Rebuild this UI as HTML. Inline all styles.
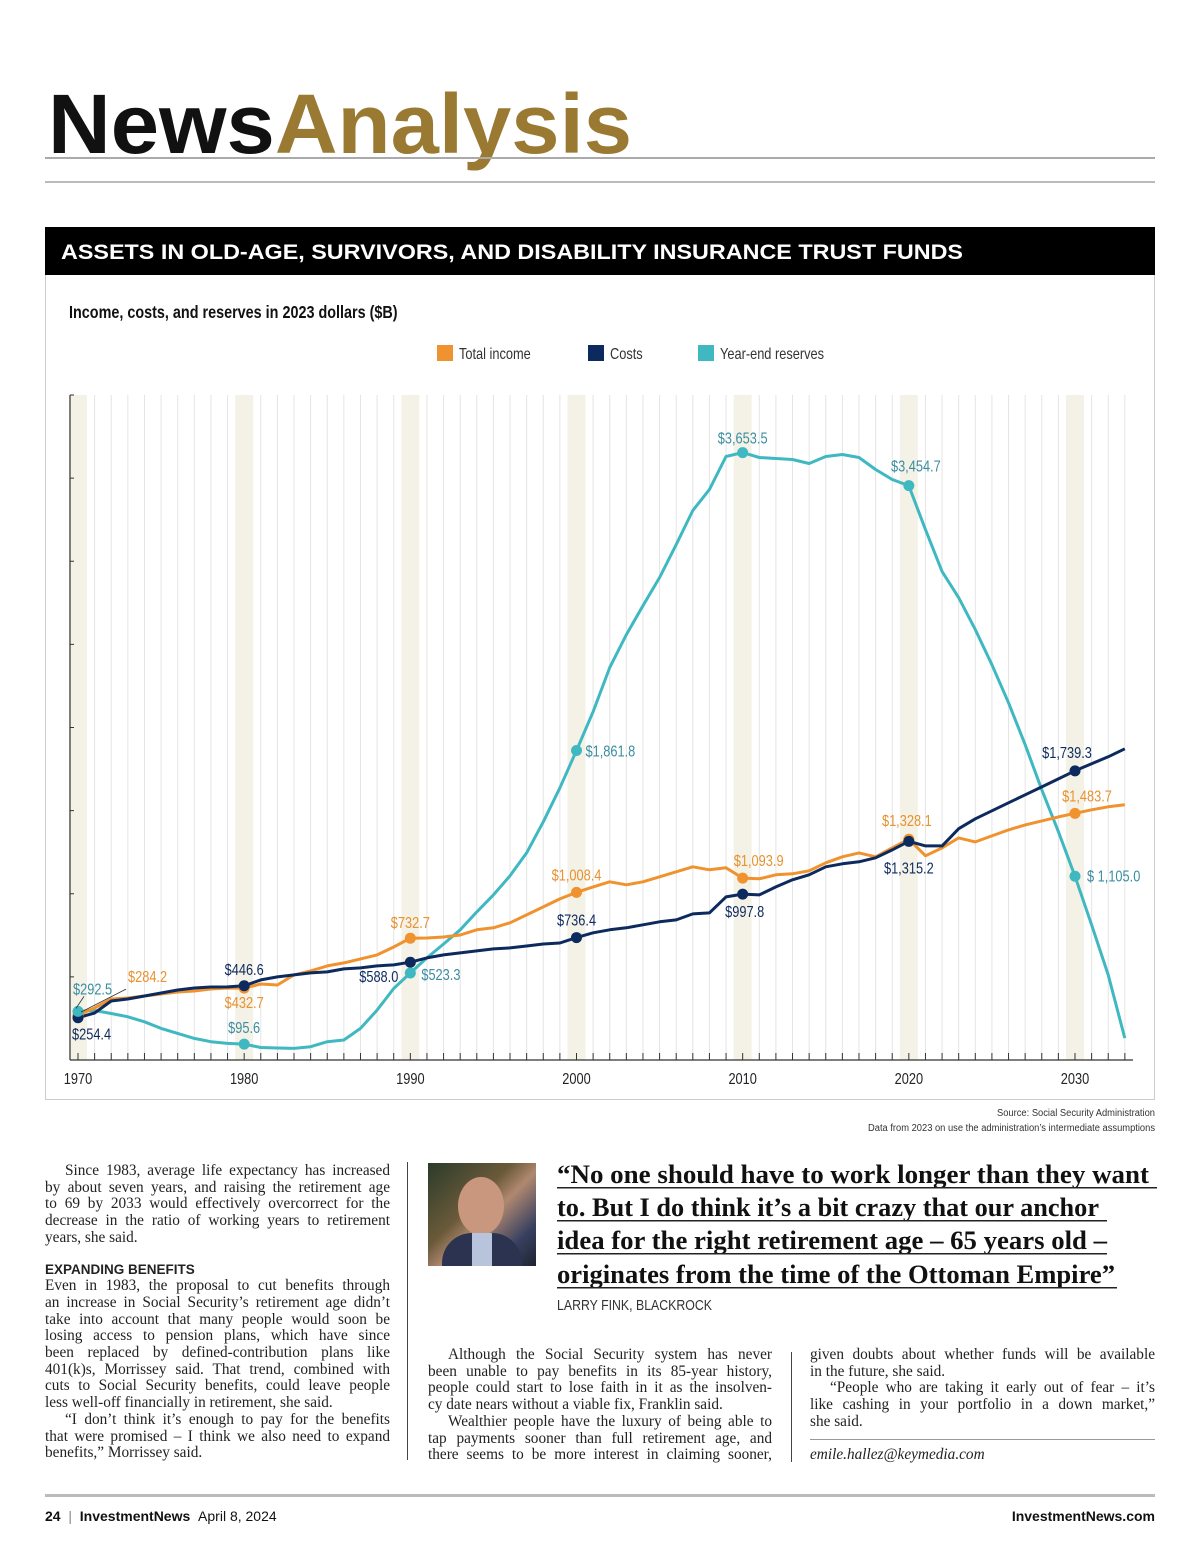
<!DOCTYPE html>
<html><head><meta charset="utf-8"><style>
body{margin:0;background:#fff;width:1200px;height:1560px;position:relative;overflow:hidden;font-family:"Liberation Sans",sans-serif}
.abs{position:absolute}
.col{position:absolute;font-family:"Liberation Serif",serif;font-size:15.3px;color:#222;line-height:16.7px}
.col div{white-space:nowrap;text-align:justify;text-align-last:justify}
.col div.l{text-align-last:left}
.col div.i{text-indent:20px}
</style></head><body>
<svg class="abs" style="left:0;top:0" width="1200" height="200">
<text x="48" y="153" font-family="Liberation Sans" font-weight="bold" font-size="84" textLength="584" lengthAdjust="spacingAndGlyphs"><tspan fill="#111">News</tspan><tspan fill="#9a7a32">Analysis</tspan></text>
<rect x="45" y="157" width="1110" height="2" fill="#aaa"/>
<rect x="45" y="181" width="1110" height="2" fill="#bbb"/>
</svg>
<div class="abs" style="left:45px;top:227px;width:1110px;height:48px;background:#000">
<svg width="1110" height="48"><text x="16" y="32" fill="#fff" font-family="Liberation Sans" font-weight="bold" font-size="21" textLength="902" lengthAdjust="spacingAndGlyphs">ASSETS IN OLD-AGE, SURVIVORS, AND DISABILITY INSURANCE TRUST FUNDS</text></svg>
</div>
<div class="abs" style="left:45px;top:275px;width:1108px;height:824px;border:1px solid #ccc;border-top:none"></div>
<svg id="chart" class="abs" style="left:0;top:0" width="1200" height="1140"></svg>
<svg class="abs" style="left:700px;top:1104px" width="455" height="30">
<g font-family="Liberation Sans" font-size="10" fill="#333" text-anchor="end">
<text x="455" y="12" textLength="158" lengthAdjust="spacingAndGlyphs">Source: Social Security Administration</text>
<text x="455" y="27" textLength="287" lengthAdjust="spacingAndGlyphs">Data from 2023 on use the administration’s intermediate assumptions</text></g></svg>

<div class="col" style="left:45px;top:1163px;width:345px">
<div class="i">Since 1983, average life expectancy has increased</div>
<div>by about seven years, and raising the retirement age</div>
<div>to 69 by 2033 would effectively overcorrect for the</div>
<div>decrease in the ratio of working years to retirement</div>
<div class="l">years, she said.</div>
<div class="l" style="margin-top:15px;font-family:'Liberation Sans',sans-serif;font-weight:bold;font-size:13.5px">EXPANDING BENEFITS</div>
<div>Even in 1983, the proposal to cut benefits through</div>
<div>an increase in Social Security’s retirement age didn’t</div>
<div>take into account that many people would soon be</div>
<div>losing access to pension plans, which have since</div>
<div>been replaced by defined-contribution plans like</div>
<div>401(k)s, Morrissey said. That trend, combined with</div>
<div>cuts to Social Security benefits, could leave people</div>
<div class="l">less well-off financially in retirement, she said.</div>
<div class="i">“I don’t think it’s enough to pay for the benefits</div>
<div>that were promised – I think we also need to expand</div>
<div class="l">benefits,” Morrissey said.</div>
</div>
<div class="abs" style="left:407px;top:1162px;width:1px;height:298px;background:#444"></div>
<div class="abs" style="left:428px;top:1163px;width:108px;height:103px;background:linear-gradient(135deg,#2a3b2a,#6b5a3a 40%,#b08870 55%,#384060 80%,#1e2430)">
<div class="abs" style="left:30px;top:14px;width:46px;height:58px;border-radius:50%;background:#c9977e"></div>
<div class="abs" style="left:14px;top:70px;width:80px;height:33px;border-radius:30px 30px 0 0;background:#2b3350"></div>
<div class="abs" style="left:44px;top:70px;width:20px;height:33px;background:#b8c4dc"></div>
</div>
<svg class="abs" style="left:550px;top:1160px" width="620" height="160">
<g font-family="Liberation Serif" font-weight="bold" font-size="26" fill="#111">
<text x="7" y="23" textLength="592" lengthAdjust="spacingAndGlyphs">“No one should have to work longer than they want</text>
<text x="7" y="56" textLength="542" lengthAdjust="spacingAndGlyphs">to. But I do think it’s a bit crazy that our anchor</text>
<text x="7" y="89" textLength="550" lengthAdjust="spacingAndGlyphs">idea for the right retirement age – 65 years old –</text>
<text x="7" y="123" textLength="558" lengthAdjust="spacingAndGlyphs">originates from the time of the Ottoman Empire”</text>
</g>
<g fill="#222"><rect x="7" y="27" width="600" height="1.5"/><rect x="7" y="60" width="550" height="1.5"/><rect x="7" y="93" width="550" height="1.5"/><rect x="7" y="127" width="560" height="1.5"/></g>
<text x="7" y="150" font-family="Liberation Sans" font-size="14.5" fill="#333" textLength="155" lengthAdjust="spacingAndGlyphs">LARRY FINK, BLACKROCK</text>
</svg>
<div class="col" style="left:428px;top:1347px;width:344px">
<div class="i">Although the Social Security system has never</div>
<div>been unable to pay benefits in its 85-year history,</div>
<div>people could start to lose faith in it as the insolven-</div>
<div class="l">cy date nears without a viable fix, Franklin said.</div>
<div class="i">Wealthier people have the luxury of being able to</div>
<div>tap payments sooner than full retirement age, and</div>
<div>there seems to be more interest in claiming sooner,</div>
</div>
<div class="abs" style="left:791px;top:1352px;width:1px;height:110px;background:#444"></div>
<div class="col" style="left:810px;top:1347px;width:345px">
<div>given doubts about whether funds will be available</div>
<div class="l">in the future, she said.</div>
<div class="i">“People who are taking it early out of fear – it’s</div>
<div>like cashing in your portfolio in a down market,”</div>
<div class="l">she said.</div>
<div style="height:1px;background:#999;margin:8px 0 7px"></div>
<div class="l" style="font-style:italic">emile.hallez@keymedia.com</div>
</div>
<div class="abs" style="left:45px;top:1494px;width:1110px;height:3px;background:#bbb"></div>
<div class="abs" style="left:45px;top:1508px;font-size:14px;color:#111"><b>24</b> <span style="color:#888">&nbsp;|&nbsp;</span> <b>InvestmentNews</b> &nbsp;April 8, 2024</div>
<div class="abs" style="right:45px;top:1508px;font-size:14px;font-weight:bold;color:#111">InvestmentNews.com</div>

<script>
const years=[];for(let y=1970;y<=2033;y++)years.push(y);
const income=[270,313,367,373,385,397,409,415,427,433,432.7,457,451,512,536,566,584,608,632,680,732.7,734,740,752,783,795,825,873,921,969,1008.4,1041,1072,1054,1072,1102,1132,1162,1144,1156,1093.9,1090,1114,1120,1138,1186,1222,1246,1222,1276,1328.1,1228,1276,1336,1312,1348,1384,1414,1438,1462,1483.7,1505,1523,1535];
const costs=[254.4,283,355,367,385,403,421,433,439,440,446.6,482,500,512,524,530,548,554,566,572,588.0,614,632,644,656,668,674,686,698,704,736.4,765,783,795,813,831,843,879,885,981,997.8,993,1041,1084,1114,1162,1180,1192,1216,1264,1315.2,1288,1288,1391,1451,1499,1547,1595,1643,1691,1739.3,1782,1824,1872];
const reserves=[292.5,298,280,260,230,190,160,130,110,100,95.6,75,72,70,80,110,120,190,300,430,523.3,614,698,783,891,993,1108,1246,1433,1637,1861.8,2095,2360,2559,2733,2902,3100,3305,3431,3630,3653.5,3624,3618,3612,3588,3630,3642,3624,3552,3492,3454.7,3190,2938,2781,2589,2378,2149,1896,1625,1373,1105.0,813,512,132];
const xTickLabels=[1970,1980,1990,2000,2010,2020,2030];
const yTicks=[0,500,1000,1500,2000,2500,3000,3500,4000];
const seriesNames=["Total income","Costs","Year-end reserves"];
const labelTexts=[["$284.2","$432.7","$732.7","$1,008.4","$1,093.9","$1,328.1","$1,483.7"],["$254.4","$446.6","$588.0","$736.4","$997.8","$1,315.2","$1,739.3"],["$292.5","$95.6","$523.3","$1,861.8","$3,653.5","$3,454.7","$ 1,105.0"]];

const colors=["#f0922e","#0d2a5e","#3fb8c2"];
const labelColors=["#e8912d","#0d2a5e","#3a8da0"];
const svg=document.getElementById('chart');
const NS='http://www.w3.org/2000/svg';
const X0=78,X1=1075,Y0=1060,Y1=395,PL=70,PR=1133;
const SX=0.8;
const x=y=>X0+(y-1970)*(X1-X0)/60;
const yv=v=>Y0-v*(Y0-Y1)/4000;
function mk(t,a,p){const e=document.createElementNS(NS,t);for(const k in a)e.setAttribute(k,a[k]);(p||svg).appendChild(e);return e;}
function ntext(px,py,a,p){const e=mk('text',Object.assign({x:0,y:0,transform:'translate('+px+','+py+') scale('+SX+',1)'},a),p);return e;}
// subtitle & legend
const st=ntext(69,318,{'font-family':'Liberation Sans','font-weight':'bold','font-size':18,fill:'#111'});


st.textContent='Income, costs, and reserves in 2023 dollars ($B)';
const legX=[437,588,698];
seriesNames.forEach((n,i)=>{
  const g=mk('g',{});
  
  
  mk('rect',{x:legX[i],y:345,width:16,height:16,fill:colors[i]},g);
  const t=ntext(legX[i]+22,359,{'font-family':'Liberation Sans','font-size':16,fill:'#333'},g);
  t.textContent=n;
});
// bands & grid
for(let yr=1970;yr<=2033;yr++){
  if(yr%10===0){const b=mk('rect',{x:x(yr)-9,y:Y1,width:18,height:Y0-Y1,fill:'#f4f1e6'});
    
    }
  else mk('line',{x1:x(yr),x2:x(yr),y1:Y1,y2:Y0,stroke:'#e4e4e4','stroke-width':1});
  mk('line',{x1:x(yr),x2:x(yr),y1:Y0,y2:Y0-7,stroke:'#333','stroke-width':1});
}
// axes
const ax=mk('line',{x1:PL,x2:PL,y1:Y1,y2:Y0,stroke:'#333','stroke-width':1.2});


yTicks.forEach(v=>mk('line',{x1:PL,x2:PL+4,y1:yv(v),y2:yv(v),stroke:'#333'}));
const bx=mk('line',{x1:PL,x2:PR,y1:Y0,y2:Y0,stroke:'#333','stroke-width':1.2});


xTickLabels.forEach(t=>{const e=ntext(x(t),1084,{'text-anchor':'middle','font-family':'Liberation Sans','font-size':16,fill:'#222'});
  
  
  e.textContent=t;});
// lines
const data=[income,costs,reserves];
const order=[2,0,1];
order.forEach(i=>{
  const d=data[i].map((v,k)=>(k?'L':'M')+x(years[k]).toFixed(1)+','+yv(v).toFixed(1)).join('');
  const p=mk('path',{d:d,fill:'none',stroke:colors[i],'stroke-width':3,'stroke-linejoin':'round'});
  
  
});
// markers & labels
const offs=[
 [[50,-33,'start'],[0,20,'middle'],[0,-10,'middle'],[0,-12,'middle'],[16,-12,'middle'],[-2,-13,'middle'],[12,-12,'middle']],
 [[-6,22,'start'],[0,-11,'middle'],[-12,20,'end'],[0,-12,'middle'],[2,23,'middle'],[0,32,'middle'],[-8,-13,'middle']],
 [[-5,-17,'start'],[0,-11,'middle'],[11,7,'start'],[9,6,'start'],[0,-9,'middle'],[7,-14,'middle'],[12,5,'start']]
];
[0,1,2].forEach(i=>{
  xTickLabels.forEach((yr,j)=>{
    const k=yr-1970;
    const c=mk('circle',{cx:x(yr),cy:yv(data[i][k]),r:5.5,fill:colors[i]});
    
    
    const o=offs[i][j];
    const t=ntext(x(yr)+o[0],yv(data[i][k])+o[1],{'text-anchor':o[2],'font-family':'Liberation Sans','font-size':16,fill:labelColors[i]});
    
    
    t.textContent=labelTexts[i][j];
  });
});
mk('line',{x1:x(1970)+3,y1:yv(income[0])-3,x2:x(1970)+48,y2:yv(income[0])-26,stroke:'#333','stroke-width':0.8});
mk('line',{x1:x(1970)-2,y1:yv(reserves[0])-3,x2:x(1970)+6,y2:yv(reserves[0])-15,stroke:'#333','stroke-width':0.8});
</script>
</body></html>
